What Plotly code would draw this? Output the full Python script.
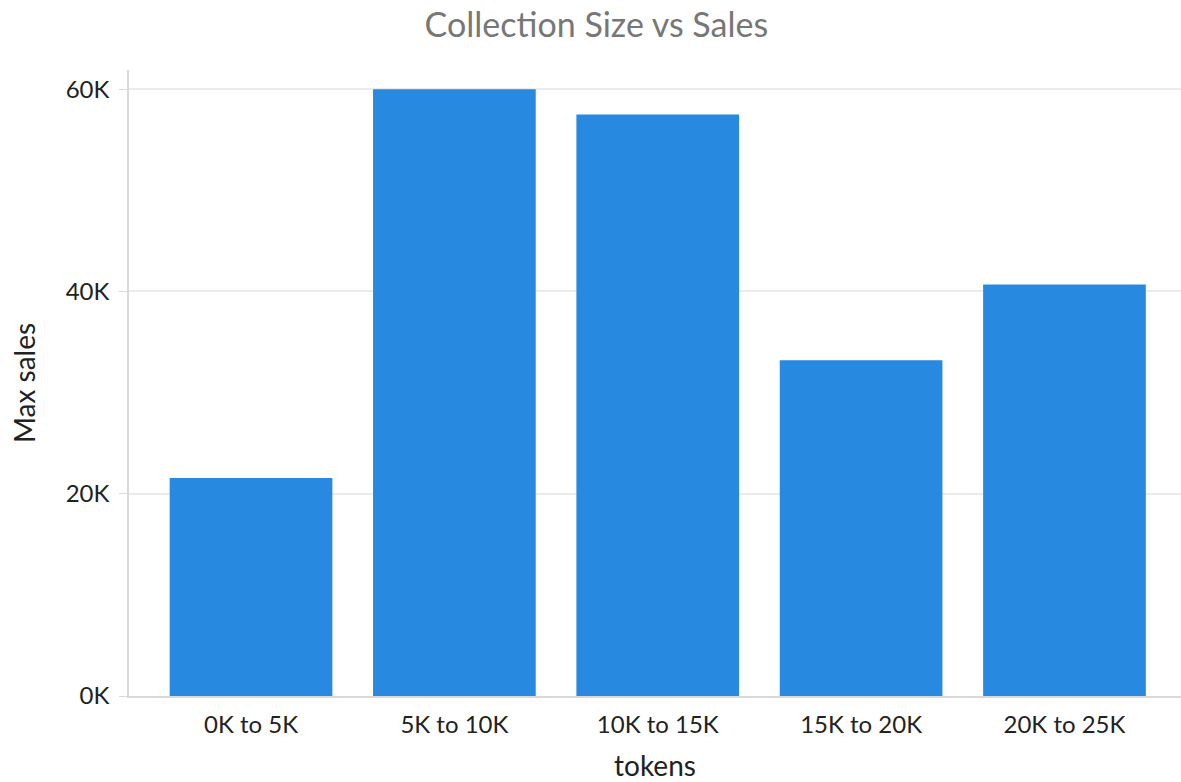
import plotly.graph_objects as go

categories = ["0K to 5K", "5K to 10K", "10K to 15K", "15K to 20K", "20K to 25K"]
max_sales = [21550, 60000, 57500, 33200, 40700]
y_tick_vals = [0, 20000, 40000, 60000]
y_tick_text = ["0K", "20K", "40K", "60K"]

fig = go.Figure(go.Bar(x=categories, y=max_sales, marker=dict(color="#2889e0", line=dict(width=0))))

fig.update_layout(
    width=1181, height=782,
    margin=dict(l=129, r=0, t=70, b=86),
    paper_bgcolor="white", plot_bgcolor="white",
    font=dict(family="Lato", size=24, color="#222"),
    title=dict(text="Collection Size vs Sales", x=0.505, xanchor="center", y=0.968, yanchor="middle",
               font=dict(family="Lato", size=34, color="#777")),
    bargap=0.2,
    showlegend=False,
)
fig.update_xaxes(
    range=[-0.6, 4.573], showline=True, linecolor="#d9d9d9", linewidth=1.5,
    ticks="outside", ticklen=6, tickcolor="rgba(0,0,0,0)", showgrid=False, tickfont=dict(size=24),
    title=dict(text="tokens", font=dict(size=28, color="#222"), standoff=20),
)
fig.update_yaxes(
    range=[0, 61900], tickvals=y_tick_vals, ticktext=y_tick_text,
    showline=True, linecolor="#d9d9d9", linewidth=1.5,
    ticks="outside", ticklen=8, tickcolor="#d9d9d9", tickfont=dict(size=24),
    ticklabelstandoff=5,
    showgrid=True, gridcolor="#ebebeb", gridwidth=1.5, zeroline=False,
    title=dict(text="Max sales", font=dict(size=28, color="#222"), standoff=22),
)

fig.write_html("out.html")
